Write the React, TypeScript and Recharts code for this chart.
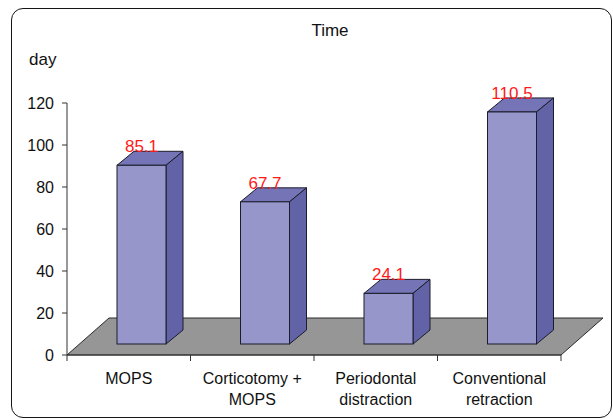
import React from "react";
import { Bar, BarChart, ReferenceLine, XAxis, YAxis } from "recharts";

const categories = [
  "MOPS",
  "Corticotomy + MOPS",
  "Periodontal distraction",
  "Conventional retraction",
];
const days = [85.1, 67.7, 24.1, 110.5];
const tickLines = [
  ["MOPS"],
  ["Corticotomy +", "MOPS"],
  ["Periodontal", "distraction"],
  ["Conventional", "retraction"],
];
const yTicks = [0, 20, 40, 60, 80, 100, 120];

const data = categories.map((name, i) => ({ name, value: days[i] }));

const FONT = "'Liberation Sans', Arial, sans-serif";
// 3D look, in px
const RECESS_X = 13;
const RECESS_Y = -11;
const DEPTH_X = 17;
const DEPTH_Y = -14;
const FLOOR_X = 42;
const FLOOR_Y = -37;

function Box3D(props: any) {
  const { x, y, width, height } = props;
  const fx = x + RECESS_X;
  const fy = y + RECESS_Y;
  const stroke = "#1c1c2c";
  return (
    <g>
      <polygon
        points={`${fx},${fy} ${fx + DEPTH_X},${fy + DEPTH_Y} ${fx + width + DEPTH_X},${fy + DEPTH_Y} ${fx + width},${fy}`}
        fill="#7474b6"
        stroke={stroke}
        strokeWidth={1}
      />
      <polygon
        points={`${fx + width},${fy} ${fx + width + DEPTH_X},${fy + DEPTH_Y} ${fx + width + DEPTH_X},${fy + height + DEPTH_Y} ${fx + width},${fy + height}`}
        fill="#6262a6"
        stroke={stroke}
        strokeWidth={1}
      />
      <rect x={fx} y={fy} width={width} height={height} fill="#9696ca" stroke={stroke} strokeWidth={1} />
    </g>
  );
}

function Floor(props: any) {
  const { x1, y1, x2, y2 } = props;
  const n = categories.length;
  const step = (x2 - x1) / n;
  return (
    <g>
      <polygon
        points={`${x1},${y1} ${x2},${y2} ${x2 + FLOOR_X},${y2 + FLOOR_Y} ${x1 + FLOOR_X},${y1 + FLOOR_Y}`}
        fill="#969696"
        stroke="#2a2a2a"
        strokeWidth={1}
      />
      {Array.from({ length: n + 1 }, (_, i) => (
        <line key={i} x1={x1 + i * step} y1={y1} x2={x1 + i * step} y2={y1 + 6} stroke="#333" />
      ))}
    </g>
  );
}

function CategoryTick(props: any) {
  const { x, y, index } = props;
  const lines = tickLines[index] || [];
  return (
    <text x={x} y={y} textAnchor="middle" fontSize={16} fontFamily={FONT} fill="#111">
      {lines.map((t, i) => (
        <tspan key={i} x={x} dy={i === 0 ? 29 : 21}>
          {t}
        </tspan>
      ))}
    </text>
  );
}

function ValueLabel(props: any) {
  const { x, y, width, value } = props;
  return (
    <text
      x={x + width / 2 + RECESS_X}
      y={y + RECESS_Y - 13}
      textAnchor="middle"
      fontSize={17}
      fontFamily={FONT}
      fill="#ff1a1a"
    >
      {value}
    </text>
  );
}

export default function App() {
  return (
    <div style={{ position: "absolute", left: 0, top: 0, width: 613, height: 420, background: "#fff" }}>
      <div
        style={{
          position: "absolute",
          left: 11,
          top: 8,
          width: 601,
          height: 410,
          border: "1.5px solid #151515",
          borderRadius: 12,
          boxSizing: "border-box",
        }}
      />
      <div
        style={{
          position: "absolute",
          left: 0,
          top: 22,
          width: 660,
          textAlign: "center",
          fontFamily: FONT,
          fontSize: 17,
          lineHeight: "18px",
          color: "#111",
        }}
      >
        Time
      </div>
      <div
        style={{
          position: "absolute",
          left: 29,
          top: 50,
          fontFamily: FONT,
          fontSize: 17,
          lineHeight: "20px",
          color: "#111",
        }}
      >
        day
      </div>
      <BarChart
        width={613}
        height={420}
        data={data}
        margin={{ top: 103, right: 52, bottom: 35, left: 0 }}
        style={{ position: "absolute", left: 0, top: 0 }}
      >
        <ReferenceLine y={0} shape={Floor} zIndex={50} ifOverflow="visible" />
        <YAxis
          width={67}
          domain={[0, 120]}
          ticks={yTicks}
          interval={0}
          tickSize={5}
          tickMargin={8}
          tick={{ fontSize: 16, fill: "#111", fontFamily: FONT }}
          axisLine={{ stroke: "#333" }}
          tickLine={{ stroke: "#333" }}
        />
        <XAxis
          dataKey="name"
          height={30}
          interval={0}
          tickSize={0}
          tickMargin={0}
          tickLine={false}
          tick={<CategoryTick />}
          axisLine={{ stroke: "#333" }}
        />
        <Bar
          dataKey="value"
          barSize={49}
          shape={<Box3D />}
          label={<ValueLabel />}
          isAnimationActive={false}
        />
      </BarChart>
    </div>
  );
}
